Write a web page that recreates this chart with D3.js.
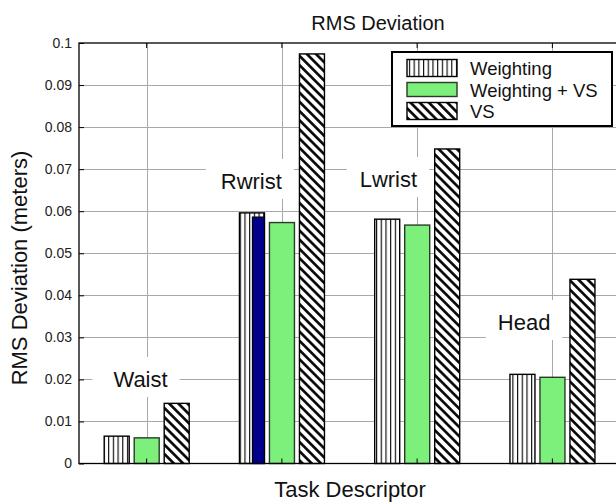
<!DOCTYPE html>
<html>
<head>
<meta charset="utf-8">
<script src="https://cdn.jsdelivr.net/npm/d3@7"></script>
<style>
  body { margin: 0; background: #fff; }
  svg { display: block; font-family: "Liberation Sans", Arial, sans-serif; }
</style>
</head>
<body>
<svg id="chart" width="616" height="504"></svg>
<script>
// data
const groups = ["Waist", "Rwrist", "Lwrist", "Head"]
const series = ["Weighting", "Weighting + VS", "VS"]
const weighting = [0.0065, 0.0596, 0.0581, 0.0212]
const weightingVS = [0.0061, 0.0573, 0.0567, 0.0205]
const vsOnly = [0.0143, 0.0974, 0.0748, 0.0438]
// dark overlay bar showing through the Rwrist "Weighting" bar
const overlay = [0, 0.0586, 0, 0]
const yTicks = [0, 0.01, 0.02, 0.03, 0.04, 0.05, 0.06, 0.07, 0.08, 0.09, 0.1]
const yTickLabels = ["0", "0.01", "0.02", "0.03", "0.04", "0.05", "0.06", "0.07", "0.08", "0.09", "0.1"]

const values = [weighting, weightingVS, vsOnly]

const svg = d3.select("#chart")
const plot = { left: 79, right: 620, top: 43, bottom: 463.5 }

const x = d3.scaleBand().domain(groups).range([plot.left, plot.right])
const xSub = d3.scaleBand().domain(series).range([25.2, 110.2]).paddingInner(1 / 6)
const y = d3.scaleLinear().domain([0, 0.1]).range([plot.bottom, plot.top])
const crisp = (v) => Math.round(v) + 0.5

// patterns
const defs = svg.append("defs")
const pv = defs.append("pattern").attr("id", "vstripe").attr("patternUnits", "userSpaceOnUse")
  .attr("width", 4.7).attr("height", 10)
pv.append("rect").attr("width", 4.7).attr("height", 10).attr("fill", "#fff")
pv.append("line").attr("x1", 0.6).attr("x2", 0.6).attr("y1", 0).attr("y2", 10)
  .attr("stroke", "#000").attr("stroke-width", 1.1)

const pd = defs.append("pattern").attr("id", "dstripe").attr("patternUnits", "userSpaceOnUse")
  .attr("width", 6.5).attr("height", 6.5).attr("patternTransform", "rotate(45)")
pd.append("rect").attr("width", 6.5).attr("height", 6.5).attr("fill", "#fff")
pd.append("line").attr("x1", 0).attr("x2", 6.5).attr("y1", 3.25).attr("y2", 3.25)
  .attr("stroke", "#000").attr("stroke-width", 2.6)

const fills = { "Weighting": "url(#vstripe)", "Weighting + VS": "#7cf07a", "VS": "url(#dstripe)" }
const strokes = { "Weighting": "#000", "Weighting + VS": "#2a3a2a", "VS": "#000" }

// grid, under everything else (light so it reads like the dotted original)
const grid = svg.append("g")
grid.selectAll("line.hgrid").data(yTicks.slice(1, -1)).join("line").attr("class", "hgrid")
  .attr("x1", plot.left).attr("x2", plot.right)
  .attr("y1", (d) => crisp(y(d))).attr("y2", (d) => crisp(y(d)))
grid.selectAll("line.vgrid").data(groups).join("line").attr("class", "vgrid")
  .attr("x1", (d) => crisp(x(d) + x.bandwidth() / 2)).attr("x2", (d) => crisp(x(d) + x.bandwidth() / 2))
  .attr("y1", plot.top).attr("y2", plot.bottom)
grid.selectAll("line").attr("stroke", "#a8a8a8").attr("stroke-width", 1)

// group labels, each on a white box that hides the grid behind it
const labelSpots = [
  { dx: 21, base: 387, padL: 21 },
  { dx: 0, base: 189, padL: 15 },
  { dx: 0, base: 187, padL: 13 },
  { dx: -2, base: 330, padL: 12 }
]
const labels = svg.append("g")
groups.forEach((g, i) => {
  const s = labelSpots[i]
  const cx = x(g) + x.bandwidth() / 2 + s.dx
  const box = labels.append("rect").attr("fill", "#fff")
  const t = labels.append("text").attr("x", cx).attr("y", s.base)
    .attr("text-anchor", "end").attr("font-size", 22).attr("fill", "#111").text(g)
  const bb = t.node().getBBox()
  box.attr("x", bb.x - s.padL).attr("y", s.base - 30).attr("width", bb.width + s.padL + 12).attr("height", 40)
})

// bars
const bars = svg.append("g")
groups.forEach((g, i) => {
  series.forEach((s, j) => {
    const v = values[j][i]
    bars.append("rect")
      .attr("x", x(g) + xSub(s))
      .attr("y", y(v))
      .attr("width", xSub.bandwidth())
      .attr("height", y(0) - y(v))
      .attr("fill", fills[s])
      .attr("stroke", strokes[s])
      .attr("stroke-width", 1.4)
  })
  if (overlay[i] > 0) {
    const bw = xSub.bandwidth()
    bars.append("rect")
      .attr("x", x(g) + xSub("Weighting") + bw * 0.52)
      .attr("y", y(overlay[i]))
      .attr("width", bw * 0.48)
      .attr("height", y(0) - y(overlay[i]))
      .attr("fill", "#00008a")
      .attr("stroke", "#000")
      .attr("stroke-width", 1.2)
  }
})

// axes
const yAxis = d3.axisLeft(y).tickValues(yTicks).tickFormat((d, i) => yTickLabels[i])
  .tickSizeInner(-5).tickSizeOuter(0).tickPadding(7)
const gy = svg.append("g").attr("transform", `translate(${plot.left},0)`).call(yAxis)
gy.select(".domain").remove()
gy.selectAll("text").attr("font-size", 14).attr("fill", "#222").attr("font-family", "Liberation Sans, Arial, sans-serif")
gy.selectAll("line").attr("stroke", "#000")

const xAxisTop = d3.axisTop(x).tickSizeInner(-5).tickSizeOuter(0).tickFormat("")
const gxt = svg.append("g").attr("transform", `translate(0,${plot.top})`).call(xAxisTop)
gxt.select(".domain").remove()
const xAxisBot = d3.axisBottom(x).tickSizeInner(-5).tickSizeOuter(0).tickFormat("")
const gxb = svg.append("g").attr("transform", `translate(0,${plot.bottom})`).call(xAxisBot)
gxb.select(".domain").remove()

// frame
svg.append("rect")
  .attr("x", plot.left).attr("y", plot.top)
  .attr("width", plot.right - plot.left).attr("height", plot.bottom - plot.top)
  .attr("fill", "none").attr("stroke", "#000").attr("stroke-width", 1.3)

// titles
svg.append("text").attr("x", 378).attr("y", 30).attr("text-anchor", "middle")
  .attr("font-size", 20).attr("fill", "#111").text("RMS Deviation")
svg.append("text").attr("x", 350).attr("y", 497).attr("text-anchor", "middle")
  .attr("font-size", 22).attr("fill", "#111").text("Task Descriptor")
svg.append("text").attr("transform", "translate(27,268) rotate(-90)").attr("text-anchor", "middle")
  .attr("font-size", 22).attr("fill", "#111").text("RMS Deviation (meters)")

// legend
const lg = svg.append("g")
lg.append("rect").attr("x", 392).attr("y", 52).attr("width", 220).attr("height", 74)
  .attr("fill", "#fff").attr("stroke", "#000").attr("stroke-width", 2)
const rowY = d3.scalePoint().domain(series).range([68, 111])
series.forEach((s) => {
  const h = s === "Weighting + VS" ? 14 : 17
  lg.append("rect").attr("x", 407).attr("y", rowY(s) - h / 2).attr("width", 50).attr("height", h)
    .attr("fill", fills[s]).attr("stroke", strokes[s]).attr("stroke-width", 1.4)
  lg.append("text").attr("x", 470).attr("y", rowY(s) + 7).attr("font-size", 18.5)
    .attr("fill", "#111").text(s)
})
</script>
</body>
</html>
